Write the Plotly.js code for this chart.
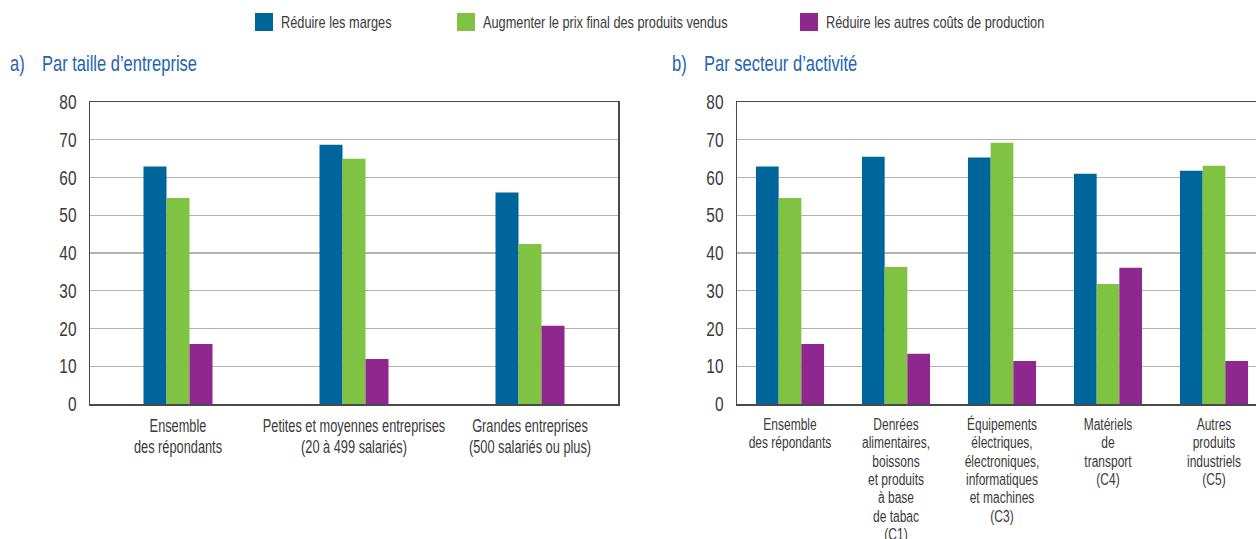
<!DOCTYPE html>
<html>
<head>
<meta charset="utf-8">
<script src="https://cdn.plot.ly/plotly-3.0.1.min.js"></script>
<style>
html,body{margin:0;padding:0;overflow:hidden;background:#fff;}
#chart{width:1280px;height:539px;}
</style>
</head>
<body>
<div id="chart"></div>
<script>
// ---- data ----
const seriesNames = ['Réduire les marges', 'Augmenter le prix final des produits vendus', 'Réduire les autres coûts de production'];
const seriesColors = ['#00659b', '#80c342', '#8e288f'];

const catsA = ['Ensemble<br>des répondants', 'Petites et moyennes entreprises<br>(20 à 499 salariés)', 'Grandes entreprises<br>(500 salariés ou plus)'];
const margesA = [62.9, 68.7, 56.0];
const prixA = [54.6, 65.0, 42.4];
const coutsA = [15.9, 11.9, 20.7];

const catsB = ['Ensemble<br>des répondants', 'Denrées<br>alimentaires,<br>boissons<br>et produits<br>à base<br>de tabac<br>(C1)', 'Équipements<br>électriques,<br>électroniques,<br>informatiques<br>et machines<br>(C3)', 'Matériels<br>de<br>transport<br>(C4)', 'Autres<br>produits<br>industriels<br>(C5)'];
const margesB = [62.9, 65.5, 65.3, 61.0, 61.8];
const prixB = [54.6, 36.3, 69.2, 31.8, 63.1];
const coutsB = [15.9, 13.3, 11.4, 36.1, 11.4];

const titleA = ['a)', 'Par taille d’entreprise'];
const titleB = ['b)', 'Par secteur d’activité'];

// ---- layout helpers ----
const W = 1280, H = 539;
const px = v => v / W;
const py = v => 1 - v / H;
const FONT = '"Liberation Sans", Arial, sans-serif';
const TXT = '#3a3a3a';

function makeTraces(cats, vals, xa, ya, w) {
  return vals.map((v, i) => ({
    type: 'bar', x: cats, y: v, name: seriesNames[i],
    xaxis: xa, yaxis: ya, width: w, offset: -1.5 * w + i * w,
    marker: {color: seriesColors[i], line: {width: 0}},
    showlegend: false, hoverinfo: 'y'
  }));
}

const traces = [
  ...makeTraces(catsA, [margesA, prixA, coutsA], 'x', 'y', 0.1307),
  ...makeTraces(catsB, [margesB, prixB, coutsB], 'x2', 'y2', 0.214)
];

const yDom = [py(404), py(102)];
function xAxis(dom, n, size) {
  return {domain: dom, range: [-0.5, n - 0.5], type: 'category',
    showline: true, mirror: true, linecolor: '#4a4a4a', linewidth: 1.5,
    ticks: '', tickangle: 0, showgrid: false, fixedrange: true,
    tickfont: {family: FONT, size: size, color: TXT}, ticklabelstandoff: 5};
}
function yAxis(dom, anchor) {
  return {domain: dom, anchor: anchor, range: [0, 80], dtick: 10, tick0: 0,
    showline: true, mirror: true, linecolor: '#4a4a4a', linewidth: 1.5,
    showgrid: true, gridcolor: '#b3b3b3', gridwidth: 1.3, zeroline: false,
    ticks: '', tickfont: {family: FONT, size: 20, color: TXT}, ticklabelstandoff: 8, fixedrange: true};
}

const shapes = [];
const annotations = [];
const legX = [255, 457, 800];
legX.forEach((x0, i) => {
  shapes.push({type: 'rect', xref: 'paper', yref: 'paper', x0: px(x0), x1: px(x0 + 18), y0: py(31), y1: py(13),
    fillcolor: seriesColors[i], line: {width: 0}});
  annotations.push({xref: 'paper', yref: 'paper', x: px(x0 + 24), y: py(22), xanchor: 'left', yanchor: 'middle', align: 'left',
    text: seriesNames[i], showarrow: false, font: {family: FONT, size: 17, color: TXT}});
});
const titleStyle = {family: FONT, size: 22, color: '#2265b0'};
[[titleA, 8, 40], [titleB, 670, 702]].forEach(([t, xa, xb]) => {
  annotations.push({xref: 'paper', yref: 'paper', x: px(xa), y: py(63), xanchor: 'left', yanchor: 'middle', align: 'left', text: t[0], showarrow: false, font: titleStyle});
  annotations.push({xref: 'paper', yref: 'paper', x: px(xb), y: py(63), xanchor: 'left', yanchor: 'middle', align: 'left', text: t[1], showarrow: false, font: titleStyle});
});

const layout = {
  width: W, height: H, margin: {l: 0, r: 0, t: 0, b: 0},
  paper_bgcolor: '#fff', plot_bgcolor: '#fff',
  barmode: 'overlay', showlegend: false,
  font: {family: FONT, color: TXT},
  xaxis: xAxis([px(90), px(618)], 3, 17.5),
  yaxis: yAxis(yDom, 'x'),
  xaxis2: xAxis([px(737), px(1267)], 5, 16),
  yaxis2: yAxis(yDom, 'x2'),
  shapes: shapes, annotations: annotations
};
layout.xaxis.anchor = 'y';
layout.xaxis2.anchor = 'y2';

// narrow the glyphs to imitate the condensed typeface of the original
function condense(el, s) {
  const L = el.getComputedTextLength();
  if (L > 0) {
    el.setAttribute('textLength', (L * s).toFixed(2));
    el.setAttribute('lengthAdjust', 'spacingAndGlyphs');
  }
}
function condenseAll(root, s, lineSp) {
  root.querySelectorAll('text').forEach(t => {
    const lines = t.querySelectorAll('tspan.line');
    if (lines.length) {
      lines.forEach((ln, k) => {
        if (lineSp) ln.setAttribute('dy', (k * lineSp) + 'em');
        condense(ln, s);
      });
    } else {
      condense(t, s);
    }
  });
}

Plotly.newPlot('chart', traces, layout, {displayModeBar: false, staticPlot: true}).then(gd => {
  gd.querySelectorAll('.xtick').forEach(g => condenseAll(g, 0.73, 1.2));
  gd.querySelectorAll('.x2tick').forEach(g => condenseAll(g, 0.75, 1.15));
  gd.querySelectorAll('.ytick, .y2tick').forEach(g => condenseAll(g, 0.77));
  gd.querySelectorAll('.annotation').forEach(g => condenseAll(g, 0.75));
});
</script>
</body>
</html>
